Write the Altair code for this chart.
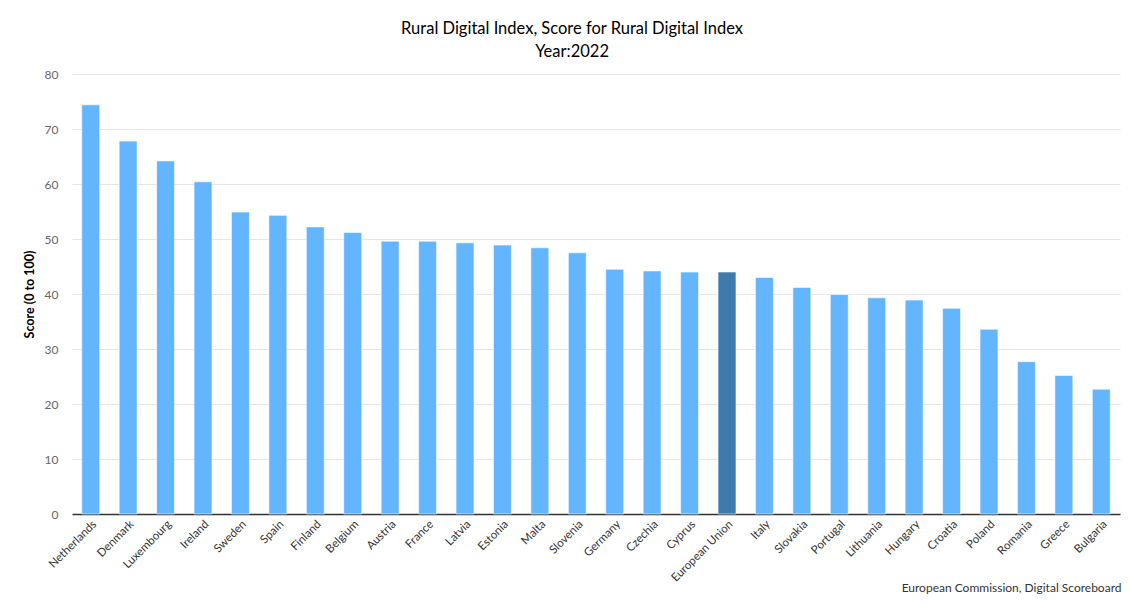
import altair as alt
import pandas as pd

countries = ["Netherlands", "Denmark", "Luxembourg", "Ireland", "Sweden", "Spain",
             "Finland", "Belgium", "Austria", "France", "Latvia", "Estonia", "Malta",
             "Slovenia", "Germany", "Czechia", "Cyprus", "European Union", "Italy",
             "Slovakia", "Portugal", "Lithuania", "Hungary", "Croatia", "Poland",
             "Romania", "Greece", "Bulgaria"]
scores = [74.4, 67.8, 64.2, 60.4, 54.9, 54.3, 52.2, 51.2, 49.6, 49.6, 49.3, 48.9,
          48.4, 47.5, 44.5, 44.2, 44.0, 44.0, 43.0, 41.2, 39.9, 39.3, 38.9, 37.4,
          33.6, 27.7, 25.2, 22.7]
groups = ["EU" if c == "European Union" else "Country" for c in countries]

df = pd.DataFrame({"country": countries, "score": scores, "group": groups})

FONT = "Lato"

chart = alt.Chart(df).mark_bar(stroke="#ffffff", strokeWidth=1, strokeOpacity=0.6).encode(
    x=alt.X("country:N", sort=countries,
            scale=alt.Scale(paddingInner=0.52, paddingOuter=0.26),
            axis=alt.Axis(title="European Commission, Digital Scoreboard",
                          titleAnchor="end", titleAlign="right", titleX=1049, titleY=77,
                          titleBaseline="alphabetic",
                          titleFontSize=12, titleFontWeight="normal", titleColor="#333333",
                          labelAngle=-45, labelFontSize=11.5, labelColor="#333333",
                          ticks=False, domainColor="#333333", domainWidth=1.5,
                          labelPadding=4)),
    y=alt.Y("score:Q", scale=alt.Scale(domain=[0, 80]),
            axis=alt.Axis(title="Score (0 to 100)", values=[0, 10, 20, 30, 40, 50, 60, 70, 80],
                          titleFontSize=12.5, titleFontWeight="bold", titleColor="#000000",
                          titlePadding=8,
                          labelFontSize=12, labelColor="#666666", labelPadding=14,
                          domain=False, ticks=False, gridColor="#e6e6e6")),
    color=alt.Color("group:N", scale=alt.Scale(domain=["Country", "EU"],
                                                range=["#63b6fe", "#3e7aab"]), legend=None),
).properties(
    width=1048, height=440,
    title=alt.TitleParams(["Rural Digital Index, Score for Rural Digital Index", "Year:2022"],
                          fontSize=16.5, fontWeight="normal", color="#000000", lineHeight=23,
                          anchor="middle", frame="bounds", offset=8, font=FONT),
    autosize=alt.AutoSizeParams(type="none"),
    padding={"left": 64, "top": 66, "right": 2, "bottom": 81},
).configure(font=FONT).configure_view(stroke=None)

chart.save("out.html", embed_options={"renderer": "svg", "actions": False})
